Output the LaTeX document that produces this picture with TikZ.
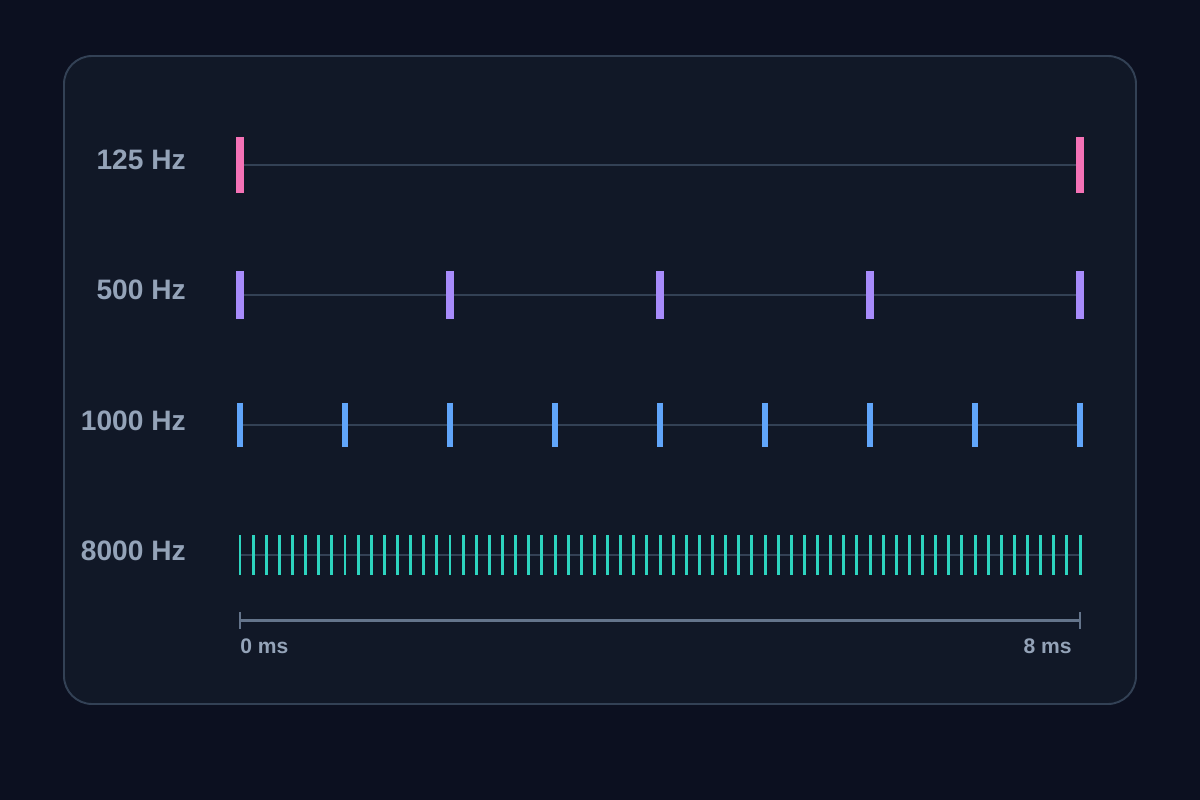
\documentclass[tikz,border=0pt]{standalone}
\usepackage{fontspec}
\setmainfont{Liberation Sans}
\usetikzlibrary{calc}
\definecolor{pagebg}{HTML}{0C1020}
\definecolor{panelbg}{HTML}{111827}
\definecolor{panelrim}{HTML}{334155}
\definecolor{rowline}{HTML}{334155}
\definecolor{axisline}{HTML}{64748B}
\definecolor{labeltext}{HTML}{94A3B8}
\definecolor{pinkpulse}{HTML}{F472B6}
\definecolor{violetpulse}{HTML}{A78BFA}
\definecolor{bluepulse}{HTML}{60A5FA}
\definecolor{tealpulse}{HTML}{2DD4BF}
% row at height #2 with #3 intervals, pulses of half height #4
\def\pulserow[#1](#2:#3:#4){\draw[line width=1.1pt, color=rowline] (240, #2) -- (1080, #2);
	\foreach \k in {0,...,#3} {\draw[#1] ({240+\k*(840/#3)}, #2-#4) -- ({240+\k*(840/#3)}, #2+#4);}}

\begin{document}
\begin{tikzpicture}[x=0.02cm, y=-0.02cm]
		%%%%% START %%%%%
		
		\useasboundingbox[fill=pagebg] (0, 0) rectangle (1200, 800);
		\draw[line width=1.1pt, color=panelrim, fill=panelbg, rounded corners=16pt] (64, 56) rectangle (1136, 704);
		
		\node[anchor=base east, inner sep=0pt, color=labeltext, font=\fontsize{16}{19}\selectfont\bfseries] (lbla) at (186, 170) {125 Hz};
		\node[anchor=base east, inner sep=0pt, color=labeltext, font=\fontsize{16}{19}\selectfont\bfseries] (lblb) at (186, 300) {500 Hz};
		\node[anchor=base east, inner sep=0pt, color=labeltext, font=\fontsize{16}{19}\selectfont\bfseries] (lblc) at (186, 430) {1000 Hz};
		\node[anchor=base east, inner sep=0pt, color=labeltext, font=\fontsize{16}{19}\selectfont\bfseries] (lbld) at (186, 560) {8000 Hz};
		
		\pulserow[line width=5.1pt, color=pinkpulse](165:1:28);
		\pulserow[line width=4.1pt, color=violetpulse](295:4:24);
		\pulserow[line width=3.9pt, color=bluepulse](425:8:22);
		\pulserow[line width=1.7pt, color=tealpulse](555:64:20);
		
		\draw[line width=1.2pt, color=axisline] (240, 620.5) -- (1080, 620.5);
		\draw[line width=1.3pt, color=axisline] (240, 612) -- (240, 629);
		\draw[line width=1.3pt, color=axisline] (1080, 612) -- (1080, 629);
		
		\node[anchor=base west, inner sep=0pt, color=labeltext, font=\fontsize{12}{14}\selectfont\bfseries] (tstart) at (240, 653) {0 ms};
		\node[anchor=base east, inner sep=0pt, color=labeltext, font=\fontsize{12}{14}\selectfont\bfseries] (tend) at (1072, 653) {8 ms};
		
		%%%%% END %%%%%
	\end{tikzpicture}
\end{document}
